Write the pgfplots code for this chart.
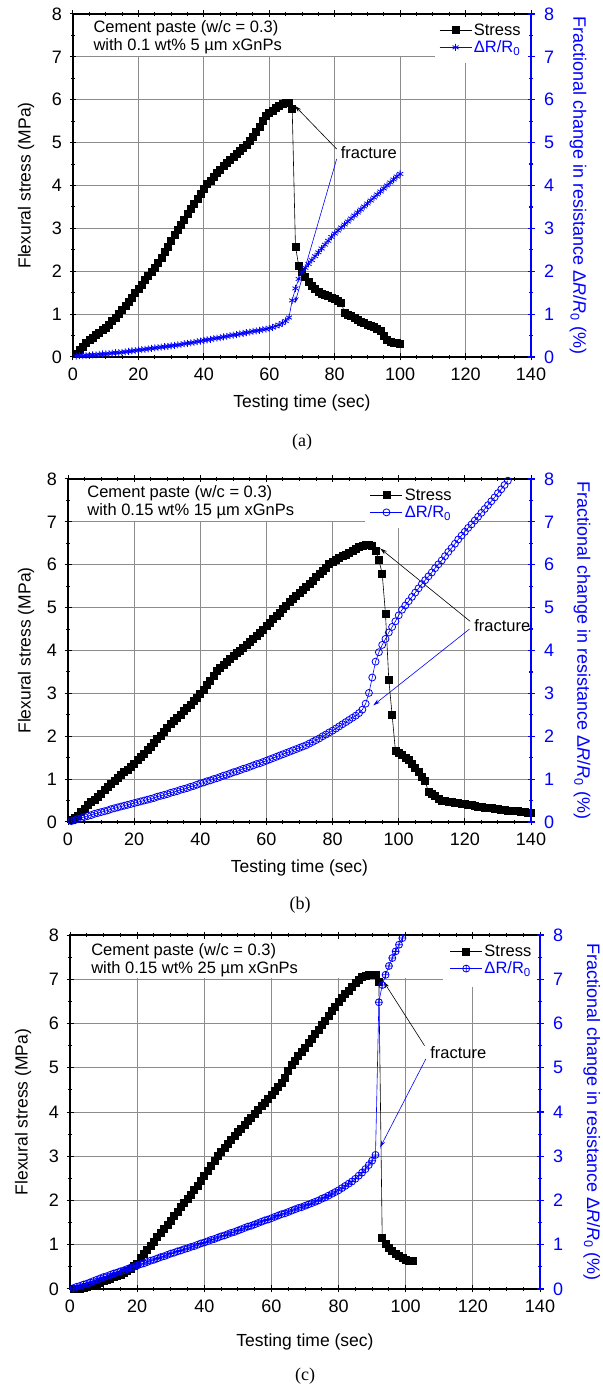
\documentclass[border=0pt]{standalone}
\usepackage{fontspec}
\setmainfont{Liberation Sans}
\newfontfamily\capfont{Liberation Serif}
\usepackage{pgfplots}
\pgfplotsset{compat=1.18}
\usetikzlibrary{arrows.meta}
\definecolor{Blue}{HTML}{0000FF}
\definecolor{GridGray}{HTML}{8C8C8C}

\pgfplotsset{
  base/.style={scale only axis, xmin=0, xmax=140, ymin=0, ymax=8,
    /pgf/number format/assume math mode=true},
  leftax/.style={base,
    xtick={0,20,...,140}, ytick={0,1,...,8},
    minor x tick num=3, minor y tick num=1,
    xtick pos=both, ytick pos=left, tick align=center,
    grid=major, grid style={color=GridGray, line width=0.9pt},
    axis line style={line width=1.1pt},
    major tick style={line width=1pt, black}, minor tick style={line width=1pt, black},
    major tick length=7pt, minor tick length=4pt,
    tick label style={font=\fontsize{18}{18}\selectfont},
    xticklabel style={yshift=-4pt}, yticklabel style={xshift=-4pt},
    label style={font=\fontsize{17.5}{18}\selectfont},
    xlabel={Testing time (sec)}, ylabel={Flexural stress (MPa)}},
  rightax/.style={base,
    axis y line*=right, axis x line=none,
    ytick={0,1,...,8}, minor y tick num=1, tick align=center,
    y axis line style={Blue, line width=1.6pt},
    major tick style={line width=1.2pt, Blue}, minor tick style={line width=1.2pt, Blue},
    major tick length=7pt, minor tick length=4pt,
    yticklabel style={Blue, font=\fontsize{18}{18}\selectfont, xshift=6pt},
    ylabel style={Blue, font=\fontsize{18}{18}\selectfont, anchor=center, rotate=180},
    ylabel={Fractional change in resistance Δ\textit{R}/\textit{R}\textsubscript{0} (\%)},
    legend cell align=left,
    legend image code/.code={\draw[mark repeat=2,mark phase=2,##1] plot coordinates {(0pt,0pt) (16pt,0pt) (32pt,0pt)};},
    legend style={draw=none, fill=none, font=\fontsize{16.5}{18}\selectfont,
      anchor=north west, row sep=0pt, inner sep=1pt}},
  stress/.style={black, line width=0.6pt, mark=square*, mark size=3.5pt},
  dr/.style={Blue, line width=0.6pt, mark size=3.5pt, mark options={line width=0.8pt}}
}
\tikzset{
  note/.style={font=\fontsize{16.5}{18}\selectfont, align=left, anchor=west},
  arr/.style={line width=0.6pt, -{Stealth[length=7pt,width=4pt]}},
  subcap/.style={font=\capfont\fontsize{18}{18}\selectfont}
}

\begin{document}
\begin{tikzpicture}
\useasboundingbox (0,0) rectangle (602pt,1388pt);

% ---------------- (a) ----------------
\begin{axis}[leftax, at={(73pt,1031pt)}, anchor=south west, width=458pt, height=343pt,
  xlabel style={at={(axis description cs:0.5,-0.134)}, anchor=center},
  ylabel style={at={(axis description cs:-0.1026,0.5)}, anchor=center}]
\fill[white] (axis cs:0.6,7.02) rectangle (axis cs:139.6,7.92);
\fill[white] (axis cs:110.8,6.86) rectangle (axis cs:139.6,7.05);
\node[note] at (axis cs:5.2,7.45) {Cement paste (w/c = 0.3)\\with 0.1 wt\% 5 µm xGnPs};
\addplot[stress] coordinates {
(1,0.08) (2,0.17) (3,0.24) (4,0.32) (5,0.39) (6,0.45) (7,0.51) (8,0.57) (9,0.63) (10,0.69)
(11,0.76) (12,0.84) (13,0.92) (14,1.01) (15,1.10) (16,1.19) (17,1.28) (18,1.38) (19,1.49) (20,1.59)
(21,1.69) (22,1.79) (23,1.89) (24,1.98) (25,2.09) (26,2.20) (27,2.32) (28,2.45) (29,2.58) (30,2.72)
(31,2.85) (32,2.97) (33,3.09) (34,3.21) (35,3.33) (36,3.45) (37,3.57) (38,3.69) (39,3.81) (40,3.93)
(41,4.04) (42,4.12) (43,4.20) (44,4.29) (45,4.37) (46,4.45) (47,4.53) (48,4.61) (49,4.68) (50,4.75)
(51,4.82) (52,4.88) (53,4.96) (54,5.04) (55,5.14) (56,5.26) (57,5.38) (58,5.51) (59,5.62) (60,5.69)
(61,5.75) (62,5.81) (63,5.86) (64,5.90) (65,5.93) (66,5.93) (67,5.80) (68,2.58) (69,2.13) (70,1.98)
(71,1.88) (72,1.76) (73,1.66) (74,1.58) (75,1.52) (76,1.48) (77,1.45) (78,1.42) (79,1.38) (80,1.35)
(81,1.31) (82,1.27) (83,1.03) (84,0.99) (85,0.95) (86,0.91) (87,0.87) (88,0.83) (89,0.79) (90,0.75)
(91,0.72) (92,0.70) (93,0.66) (94,0.60) (95,0.50) (96,0.41) (97,0.36) (98,0.33) (99,0.32) (100,0.31)
};
\node[note] at (axis cs:80.8,4.77) {fracture};
\draw[arr] (axis cs:80.6,4.85) -- (axis cs:67.8,5.86);
\draw[arr, Blue] (axis cs:80.6,4.62) -- (axis cs:67.8,1.25);
\end{axis}
\begin{axis}[rightax, at={(73pt,1031pt)}, anchor=south west, width=458pt, height=343pt,
  ylabel style={at={(axis description cs:1.1026,0.5)}},
  legend style={at={(axis cs:111.6,7.85)}}]
\addlegendimage{stress}
\addlegendentry{Stress}
\addplot[dr, mark=asterisk] coordinates {
(1,0.02) (2,0.03) (3,0.03) (4,0.04) (5,0.04) (6,0.05) (7,0.05) (8,0.06) (9,0.07) (10,0.07)
(11,0.08) (12,0.09) (13,0.10) (14,0.10) (15,0.11) (16,0.12) (17,0.13) (18,0.14) (19,0.15) (20,0.16)
(21,0.17) (22,0.18) (23,0.19) (24,0.20) (25,0.21) (26,0.22) (27,0.23) (28,0.24) (29,0.25) (30,0.26)
(31,0.27) (32,0.28) (33,0.29) (34,0.31) (35,0.32) (36,0.33) (37,0.34) (38,0.36) (39,0.37) (40,0.39)
(41,0.40) (42,0.41) (43,0.43) (44,0.44) (45,0.45) (46,0.47) (47,0.48) (48,0.50) (49,0.51) (50,0.52)
(51,0.54) (52,0.55) (53,0.57) (54,0.58) (55,0.60) (56,0.61) (57,0.62) (58,0.64) (59,0.65) (60,0.67)
(61,0.69) (62,0.72) (63,0.75) (64,0.79) (65,0.84) (66,0.92) (67,1.32) (68,1.60) (69,1.82) (70,1.98)
(71,2.08) (72,2.17) (73,2.26) (74,2.35) (75,2.44) (76,2.53) (77,2.62) (78,2.71) (79,2.80) (80,2.88)
(81,2.95) (82,3.02) (83,3.09) (84,3.16) (85,3.23) (86,3.30) (87,3.37) (88,3.44) (89,3.51) (90,3.58)
(91,3.65) (92,3.72) (93,3.79) (94,3.86) (95,3.93) (96,4.00) (97,4.07) (98,4.14) (99,4.21) (100,4.27)
};
\addlegendentry{\textcolor{Blue}{ΔR/R\textsubscript{0}}}
\end{axis}
\node[subcap] at (302pt,946pt) {(a)};

% ---------------- (b) ----------------
\begin{axis}[leftax, at={(68pt,566pt)}, anchor=south west, width=463pt, height=343pt,
  xlabel style={at={(axis description cs:0.5,-0.134)}, anchor=center},
  ylabel style={at={(axis description cs:-0.0907,0.5)}, anchor=center}]
\fill[white] (axis cs:0.6,7.02) rectangle (axis cs:89.8,7.92);
\fill[white] (axis cs:89.8,6.85) rectangle (axis cs:121.5,7.92);
\node[note] at (axis cs:4.8,7.46) {Cement paste (w/c = 0.3)\\with 0.15 wt\% 15 µm xGnPs};
\addplot[stress] coordinates {
(1,0.04) (2,0.09) (3,0.15) (4,0.23) (5,0.31) (6,0.39) (7,0.46) (8,0.52) (9,0.59) (10,0.66)
(11,0.74) (12,0.81) (13,0.89) (14,0.96) (15,1.03) (16,1.09) (17,1.16) (18,1.22) (19,1.29) (20,1.36)
(21,1.44) (22,1.52) (23,1.60) (24,1.68) (25,1.76) (26,1.84) (27,1.93) (28,2.02) (29,2.11) (30,2.20)
(31,2.28) (32,2.36) (33,2.44) (34,2.51) (35,2.59) (36,2.66) (37,2.74) (38,2.82) (39,2.90) (40,2.99)
(41,3.08) (42,3.19) (43,3.30) (44,3.42) (45,3.52) (46,3.60) (47,3.67) (48,3.74) (49,3.80) (50,3.87)
(51,3.94) (52,4.00) (53,4.07) (54,4.13) (55,4.20) (56,4.27) (57,4.34) (58,4.41) (59,4.49) (60,4.57)
(61,4.65) (62,4.73) (63,4.81) (64,4.89) (65,4.97) (66,5.05) (67,5.13) (68,5.20) (69,5.28) (70,5.35)
(71,5.42) (72,5.49) (73,5.56) (74,5.63) (75,5.71) (76,5.79) (77,5.87) (78,5.94) (79,6.02) (80,6.08)
(81,6.12) (82,6.16) (83,6.20) (84,6.24) (85,6.29) (86,6.33) (87,6.37) (88,6.41) (89,6.44) (90,6.46)
(91,6.46) (92,6.45) (93,6.33) (94,6.11) (95,5.80) (96,4.85) (97,3.32) (98,2.50) (99,1.67) (100,1.62)
(101,1.57) (102,1.50) (103,1.44) (104,1.36) (105,1.27) (106,1.17) (107,1.06) (108,0.95) (109,0.70) (110,0.65)
(111,0.60) (112,0.54) (113,0.50) (114,0.49) (115,0.48) (116,0.47) (117,0.45) (118,0.44) (119,0.43) (120,0.42)
(121,0.41) (122,0.39) (123,0.38) (124,0.36) (125,0.35) (126,0.34) (127,0.33) (128,0.32) (129,0.31) (130,0.30)
(131,0.29) (132,0.28) (133,0.27) (134,0.26) (135,0.25) (136,0.25) (137,0.24) (138,0.23) (139,0.22) (140,0.21)
};
\node[note] at (axis cs:121.8,4.57) {fracture};
\draw[arr] (axis cs:121.6,4.68) -- (axis cs:94.4,6.38);
\draw[arr, Blue] (axis cs:121.4,4.50) -- (axis cs:92.3,2.72);
\end{axis}
\begin{axis}[rightax, at={(68pt,566pt)}, anchor=south west, width=463pt, height=343pt,
  ylabel style={at={(axis description cs:1.110,0.5)}},
  legend style={at={(axis cs:91.0,7.85)}}]
\addlegendimage{stress}
\addlegendentry{Stress}
\addplot[dr, mark=o] coordinates {
(1,0.02) (2,0.04) (3,0.07) (4,0.09) (5,0.12) (6,0.14) (7,0.16) (8,0.19) (9,0.21) (10,0.23)
(11,0.25) (12,0.27) (13,0.30) (14,0.32) (15,0.34) (16,0.36) (17,0.38) (18,0.40) (19,0.42) (20,0.44)
(21,0.46) (22,0.48) (23,0.50) (24,0.52) (25,0.54) (26,0.56) (27,0.59) (28,0.61) (29,0.63) (30,0.65)
(31,0.68) (32,0.70) (33,0.72) (34,0.75) (35,0.77) (36,0.79) (37,0.82) (38,0.84) (39,0.87) (40,0.90)
(41,0.92) (42,0.95) (43,0.97) (44,1.00) (45,1.02) (46,1.05) (47,1.08) (48,1.10) (49,1.13) (50,1.16)
(51,1.18) (52,1.21) (53,1.24) (54,1.26) (55,1.29) (56,1.32) (57,1.35) (58,1.37) (59,1.40) (60,1.43)
(61,1.46) (62,1.49) (63,1.52) (64,1.55) (65,1.58) (66,1.61) (67,1.64) (68,1.67) (69,1.70) (70,1.73)
(71,1.76) (72,1.79) (73,1.83) (74,1.87) (75,1.91) (76,1.95) (77,2.00) (78,2.04) (79,2.09) (80,2.13)
(81,2.18) (82,2.23) (83,2.28) (84,2.33) (85,2.38) (86,2.43) (87,2.48) (88,2.54) (89,2.62) (90,2.76)
(91,3.01) (92,3.37) (93,3.74) (94,3.96) (95,4.13) (96,4.27) (97,4.42) (98,4.55) (99,4.68) (100,4.82)
(101,4.95) (102,5.05) (103,5.15) (104,5.25) (105,5.35) (106,5.45) (107,5.55) (108,5.64) (109,5.73) (110,5.82)
(111,5.92) (112,6.01) (113,6.10) (114,6.20) (115,6.30) (116,6.39) (117,6.49) (118,6.59) (119,6.68) (120,6.77)
(121,6.86) (122,6.94) (123,7.03) (124,7.12) (125,7.21) (126,7.30) (127,7.39) (128,7.48) (129,7.57) (130,7.67)
(131,7.76) (132,7.86) (133,7.96)
};
\addlegendentry{\textcolor{Blue}{ΔR/R\textsubscript{0}}}
\end{axis}
\node[subcap] at (300pt,483pt) {(b)};

% ---------------- (c) ----------------
\begin{axis}[leftax, at={(70pt,99pt)}, anchor=south west, width=470pt, height=354pt,
  xlabel style={at={(axis description cs:0.5,-0.15)}, anchor=center},
  ylabel style={at={(axis description cs:-0.1,0.5)}, anchor=center}]
\fill[white] (axis cs:0.6,7.02) rectangle (axis cs:139.6,7.92);
\fill[white] (axis cs:111,6.83) rectangle (axis cs:139.6,7.05);
\node[note] at (axis cs:5.3,7.44) {Cement paste (w/c = 0.3)\\with 0.15 wt\% 25 µm xGnPs};
\addplot[stress] coordinates {
(1,0.00) (2,0.00) (3,0.01) (4,0.03) (5,0.05) (6,0.07) (7,0.09) (8,0.12) (9,0.15) (10,0.18)
(11,0.20) (12,0.23) (13,0.27) (14,0.30) (15,0.33) (16,0.37) (17,0.41) (18,0.46) (19,0.52) (20,0.58)
(21,0.70) (22,0.80) (23,0.89) (24,0.98) (25,1.07) (26,1.17) (27,1.26) (28,1.35) (29,1.45) (30,1.55)
(31,1.65) (32,1.75) (33,1.85) (34,1.94) (35,2.04) (36,2.14) (37,2.24) (38,2.34) (39,2.44) (40,2.55)
(41,2.66) (42,2.78) (43,2.89) (44,3.00) (45,3.11) (46,3.20) (47,3.29) (48,3.38) (49,3.47) (50,3.55)
(51,3.63) (52,3.71) (53,3.79) (54,3.87) (55,3.96) (56,4.04) (57,4.13) (58,4.21) (59,4.30) (60,4.39)
(61,4.47) (62,4.56) (63,4.65) (64,4.78) (65,4.92) (66,5.06) (67,5.16) (68,5.26) (69,5.36) (70,5.46)
(71,5.56) (72,5.66) (73,5.76) (74,5.86) (75,5.96) (76,6.07) (77,6.18) (78,6.28) (79,6.38) (80,6.48)
(81,6.57) (82,6.66) (83,6.74) (84,6.84) (85,6.92) (86,6.99) (87,7.05) (88,7.08) (89,7.10) (90,7.11)
(91,7.10) (92,6.95) (93,1.15) (94,1.02) (95,0.94) (96,0.86) (97,0.80) (98,0.74) (99,0.70) (100,0.66)
(101,0.64) (102,0.63)
};
\node[note] at (axis cs:106.3,5.34) {fracture};
\draw[arr] (axis cs:105.6,5.50) -- (axis cs:93.4,6.95);
\draw[arr, Blue] (axis cs:106.0,5.20) -- (axis cs:92.4,3.20);
\end{axis}
\begin{axis}[rightax, at={(70pt,99pt)}, anchor=south west, width=470pt, height=354pt,
  ylabel style={at={(axis description cs:1.11,0.5)}},
  legend style={at={(axis cs:112.8,7.85)}}]
\addlegendimage{stress}
\addlegendentry{Stress}
\addplot[dr, mark=oplus] coordinates {
(1,0.02) (2,0.05) (3,0.07) (4,0.10) (5,0.12) (6,0.15) (7,0.18) (8,0.21) (9,0.24) (10,0.27)
(11,0.29) (12,0.32) (13,0.35) (14,0.37) (15,0.40) (16,0.42) (17,0.45) (18,0.48) (19,0.50) (20,0.53)
(21,0.56) (22,0.58) (23,0.61) (24,0.64) (25,0.66) (26,0.69) (27,0.72) (28,0.74) (29,0.77) (30,0.80)
(31,0.82) (32,0.85) (33,0.87) (34,0.90) (35,0.92) (36,0.95) (37,0.97) (38,1.00) (39,1.03) (40,1.05)
(41,1.08) (42,1.11) (43,1.13) (44,1.16) (45,1.19) (46,1.21) (47,1.24) (48,1.27) (49,1.29) (50,1.32)
(51,1.35) (52,1.38) (53,1.41) (54,1.43) (55,1.46) (56,1.49) (57,1.52) (58,1.55) (59,1.57) (60,1.60)
(61,1.63) (62,1.66) (63,1.69) (64,1.71) (65,1.74) (66,1.77) (67,1.80) (68,1.83) (69,1.85) (70,1.88)
(71,1.91) (72,1.94) (73,1.97) (74,2.00) (75,2.04) (76,2.07) (77,2.11) (78,2.15) (79,2.19) (80,2.23)
(81,2.28) (82,2.33) (83,2.38) (84,2.43) (85,2.49) (86,2.56) (87,2.63) (88,2.71) (89,2.80) (90,2.90)
(91,3.03) (92,6.48) (93,6.87) (94,7.10) (95,7.30) (96,7.48) (97,7.63) (98,7.78) (99,7.93) (100,8.05)
};
\addlegendentry{\textcolor{Blue}{ΔR/R\textsubscript{0}}}
\end{axis}
\node[subcap] at (305pt,12pt) {(c)};
\end{tikzpicture}
\end{document}
